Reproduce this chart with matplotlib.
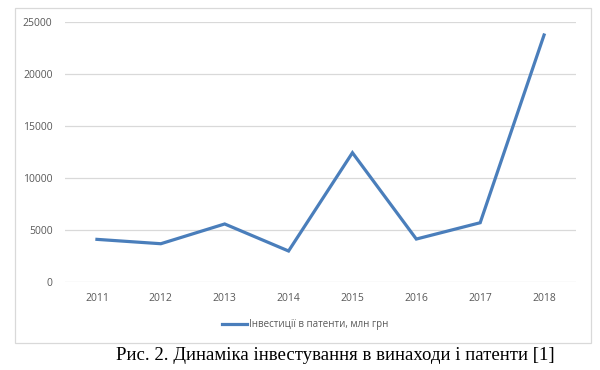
import matplotlib.pyplot as plt
from matplotlib.patches import Rectangle
from matplotlib.lines import Line2D

years = ["2011", "2012", "2013", "2014", "2015", "2016", "2017", "2018"]
investments = [4100, 3680, 5580, 2980, 12430, 4130, 5700, 23750]
series_name = "Інвестиції в патенти, млн грн"
caption = "Рис. 2. Динаміка інвестування в винаходи і патенти [1]"

fig = plt.figure(figsize=(6, 3.7), dpi=100)

# рамка діаграми
fig.patches.append(Rectangle((15 / 600, 1 - 343 / 370), 576 / 600, 335 / 370,
                             transform=fig.transFigure, fill=False,
                             edgecolor="#d9d9d9", linewidth=0.9))

ax = fig.add_axes([65 / 600, 1 - 282 / 370, 511 / 600, 260 / 370])
ax.plot(range(len(years)), investments, color="#4a7ebb", linewidth=2.3,
        solid_joinstyle="miter")
ax.set_xlim(-0.5, len(years) - 0.5)
ax.set_ylim(0, 25000)
ax.set_yticks(range(0, 25001, 5000))
ax.set_xticks(range(len(years)))
ax.set_xticklabels(years)
ax.grid(axis="y", color="#d9d9d9", linewidth=0.9)
ax.set_axisbelow(True)
for s in ax.spines.values():
    s.set_visible(False)
ax.tick_params(length=0, labelsize=7.5, labelcolor="#595959", pad=8)
for lab in ax.get_xticklabels() + ax.get_yticklabels():
    lab.set_family("Open Sans")
ax.tick_params(axis="y", pad=9)

handle = Line2D([], [], color="#4a7ebb", linewidth=2.3)
fig.legend([handle], [series_name], loc="center", bbox_to_anchor=(305 / 600, 1 - 325 / 370),
           frameon=False, handlelength=2.6, handletextpad=0.15,
           prop={"family": "Open Sans", "size": 7}, labelcolor="#595959")

fig.text(335 / 600, 1 - 356 / 370, caption, ha="center", va="center",
         family="Liberation Serif", fontsize=13.5)

fig.savefig("out.png", dpi=100)
